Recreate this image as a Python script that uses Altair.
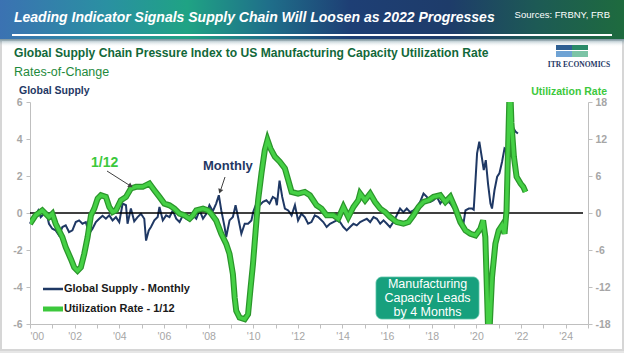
import altair as alt
import pandas as pd

# ---------------- data ----------------
blue_year = [2000.00, 2000.10, 2000.25, 2000.37, 2000.48, 2000.63, 2000.78, 2000.85,
             2001.00, 2001.15, 2001.30, 2001.45, 2001.60, 2001.75, 2001.90,
             2002.05, 2002.20, 2002.35, 2002.50, 2002.65, 2002.80, 2002.95,
             2003.10, 2003.25, 2003.40, 2003.55, 2003.70, 2003.85,
             2004.00, 2004.15, 2004.30, 2004.37, 2004.52, 2004.67, 2004.82, 2004.97,
             2005.12, 2005.20, 2005.32, 2005.42, 2005.57, 2005.72, 2005.80, 2005.95,
             2006.10, 2006.25, 2006.40, 2006.55, 2006.70, 2006.85,
             2007.00, 2007.15, 2007.30, 2007.45, 2007.60, 2007.75, 2007.90,
             2008.04, 2008.19, 2008.34, 2008.46, 2008.57, 2008.72, 2008.79, 2008.94,
             2009.09, 2009.21, 2009.32, 2009.47, 2009.62, 2009.77, 2009.92,
             2010.00, 2010.14, 2010.29, 2010.44, 2010.59, 2010.73, 2010.88,
             2011.00, 2011.06, 2011.18, 2011.30, 2011.42, 2011.57, 2011.72, 2011.87,
             2012.01, 2012.16, 2012.31, 2012.46, 2012.61, 2012.76, 2012.91,
             2013.14, 2013.29, 2013.44, 2013.59, 2013.74, 2013.89,
             2014.04, 2014.19, 2014.34, 2014.49, 2014.64, 2014.79, 2014.94,
             2015.09, 2015.24, 2015.39, 2015.54, 2015.69, 2015.84, 2015.99,
             2016.13, 2016.28, 2016.43, 2016.58, 2016.73, 2016.88,
             2017.03, 2017.18, 2017.33, 2017.48, 2017.63, 2017.78, 2017.93,
             2018.08, 2018.23, 2018.38, 2018.53, 2018.68, 2018.83, 2018.98,
             2019.13, 2019.28, 2019.43, 2019.51, 2019.66, 2019.81, 2019.88, 2019.96,
             2020.03, 2020.13, 2020.25, 2020.33, 2020.42, 2020.52, 2020.63, 2020.70, 2020.81, 2020.93,
             2021.03, 2021.15, 2021.26, 2021.35, 2021.45, 2021.55, 2021.62, 2021.75, 2021.86]
blue_value = [-0.58, -0.31, -0.13, 0.14, -0.22, -0.04, -0.22, -0.58,
              -0.85, -0.94, -1.21, -0.76, -0.67, -1.03, -0.94,
              -0.49, -0.40, -0.58, -0.49, -1.12, -0.85, -0.49,
              -0.31, -0.15, -0.31, -0.13, -0.40, -0.22,
              -0.49, 0.51, 0.42, -0.58, 0.24, -0.45, -0.22, -0.04,
              -0.31, -1.49, -0.94, -0.76, -0.40, -0.22, 0.33, -0.40,
              -0.13, -0.22, 0.14, -0.31, -0.49, -0.13,
              -0.31, -0.40, -0.13, -0.31, 0.14, -0.31, -0.04,
              0.42, 0.10, 0.51, 0.96, 0.14, -0.76, -1.30, -0.40,
              -0.22, 0.42, -0.22, -1.12, -0.58, -0.58, -0.40,
              0.05, 0.51, 0.42, 0.60, 0.69, 0.51, 0.87,
              0.78, 0.42, 1.75, 0.87, 0.24, 0.14, -0.13, 0.42,
              -0.40, -0.04, -0.22, -0.58, -0.49, -0.13, -0.22,
              -0.49, -0.76, -0.58, -0.49, -0.40, -0.49,
              -0.76, -0.94, -0.76, -0.58, -0.67, -0.49, -0.40,
              -0.31, -0.49, -0.22, -0.31, -0.58, -0.40, -0.58,
              -0.76, -0.49, -0.13, 0.24, 0.05, 0.24,
              0.05, 0.14, 0.33, 0.60, 1.05, 0.87, 0.60,
              0.69, 0.87, 0.51, 0.78, 0.69, 0.51, 0.24,
              -0.04, -0.31, -0.49, 0.14, 0.24, 0.24, 0.18, 1.78,
              3.22, 3.86, 2.95, 2.32, 2.86, 1.59, 0.51, 0.24, 1.23, 1.96,
              2.14, 2.77, 3.50, 3.41, 3.70, 4.40, 4.67, 4.40, 4.30]

green_year = [2000.00, 2000.25, 2000.55, 2000.85,
              2001.00, 2001.15, 2001.45, 2001.60, 2001.83, 2001.98,
              2002.13, 2002.28, 2002.43, 2002.58, 2002.73, 2002.88,
              2003.03, 2003.18, 2003.40, 2003.55, 2003.70, 2003.85,
              2004.07, 2004.30, 2004.52, 2004.75,
              2005.05, 2005.35, 2005.57, 2005.80,
              2006.02, 2006.25, 2006.47, 2006.70, 2006.92,
              2007.15, 2007.30, 2007.45, 2007.75, 2007.97,
              2008.12, 2008.34, 2008.57, 2008.79, 2008.94,
              2009.09, 2009.17, 2009.24, 2009.39, 2009.62, 2009.77, 2009.87, 2009.99,
              2010.11, 2010.22, 2010.37, 2010.52, 2010.64, 2010.77, 2010.97,
              2011.19, 2011.42, 2011.57, 2011.72,
              2012.01, 2012.31, 2012.54, 2012.69, 2012.84,
              2013.06, 2013.29, 2013.59, 2013.81,
              2014.04, 2014.26, 2014.49, 2014.71, 2014.79,
              2015.01, 2015.24, 2015.46, 2015.69, 2015.91,
              2016.13, 2016.43, 2016.73, 2016.96,
              2017.18, 2017.41, 2017.63, 2017.86,
              2018.08, 2018.38, 2018.61, 2018.83,
              2019.06, 2019.28, 2019.51, 2019.73, 2019.96,
              2020.18, 2020.30, 2020.40, 2020.55, 2020.70, 2020.85,
              2021.00, 2021.15, 2021.26, 2021.35, 2021.50, 2021.57, 2021.68, 2021.80, 2021.98,
              2022.10, 2022.20]
green_value = [-1.74, -0.38, 0.43, -0.65,
               -0.11, -1.74, -3.91, -5.54, -7.45, -8.80,
               -9.35, -8.80, -6.63, -3.91, -0.38, 0.71,
               2.34, 2.88, 2.61, 0.98, 0.16, 0.43,
               2.07, 2.61, 3.97, 4.24,
               4.24, 4.78, 3.70, 2.61,
               1.52, 1.25, 0.71, -0.11, -0.38,
               -0.92, -0.38, 0.43, 0.71, 0.43,
               -0.11, -1.20, -3.37, -5.00, -6.63,
               -9.89, -13.70, -15.87, -16.96, -17.23, -16.41, -12.61, -8.26,
               -2.83, 2.07, 6.41, 10.22, 11.85, 10.49, 9.13,
               8.32, 7.23, 5.33, 3.42,
               3.15, 3.42, 2.88, 2.07, 1.25,
               0.71, -0.38, -0.38, -0.92,
               0.98, -0.65, 0.98, 2.07, 3.15,
               2.07, 3.15, 1.79, 0.71, 0.16,
               -0.65, -1.47, -1.74, -1.47,
               -0.38, 0.98, 1.79, 2.07,
               2.61, 2.88, 1.79, 2.61,
               0.71, -1.47, -2.83, -3.37, -3.64,
               -2.55, -1.20, -3.91, -22.0, -10.43, -5.00,
               -2.83, -2.01, -3.37, 0.43, 22.0, 14.6, 9.13, 5.87, 4.78,
               4.24, 3.42]

year_ticks = list(range(2000, 2026))
left_ticks = [-6, -4, -2, 0, 2, 4, 6]
right_ticks = [-18, -12, -6, 0, 6, 12, 18]
box_lines = ["Manufacturing", "Capacity Leads", "by 4 Months"]

assert len(blue_year) == len(blue_value)
assert len(green_year) == len(green_value)

blue_df = pd.DataFrame({"year": blue_year, "gscpi": blue_value})
green_df = pd.DataFrame({"year": green_year, "util": green_value})
one = pd.DataFrame({"d": [0]})

# ---------------- layout ----------------
L, T = 30, 102
W, H = 558, 222
FONT = "Liberation Sans, Arial, sans-serif"
NAVY = "#1f3864"
GREEN = "#3cc83c"
AXGRAY = "#a6a6a6"


def px(x):
    return x - L


def py(y):
    return y - T


def text(s, x, y, size, color, weight="normal", style="normal", align="left", font=FONT):
    return alt.Chart(one).mark_text(
        text=s, align=align, baseline="middle", fontSize=size, color=color,
        fontWeight=weight, fontStyle=style, font=font
    ).encode(x=alt.value(px(x)), y=alt.value(py(y)))


def rect(x1, y1, x2, y2, **kw):
    return alt.Chart(one).mark_rect(**kw).encode(
        x=alt.value(px(x1)), x2=alt.value(px(x2)), y=alt.value(py(y1)), y2=alt.value(py(y2)))


def rule(x1, y1, x2, y2, **kw):
    return alt.Chart(one).mark_rule(**kw).encode(
        x=alt.value(px(x1)), x2=alt.value(px(x2)), y=alt.value(py(y1)), y2=alt.value(py(y2)))


def arrowhead(x, y, angle):
    return alt.Chart(one).mark_point(shape="triangle", angle=angle, filled=True, size=28,
                                     color="#404040", opacity=1).encode(
        x=alt.value(px(x)), y=alt.value(py(y)))


banner_grad = alt.Gradient(
    gradient="linear", x1=0, x2=1, y1=0, y2=0,
    stops=[alt.GradientStop(offset=0.0, color="#3b72b2"),
           alt.GradientStop(offset=0.17, color="#2a90a2"),
           alt.GradientStop(offset=0.30, color="#1fa384"),
           alt.GradientStop(offset=0.43, color="#1f6f8a"),
           alt.GradientStop(offset=0.56, color="#1e3f75"),
           alt.GradientStop(offset=0.72, color="#1e3c6a"),
           alt.GradientStop(offset=0.86, color="#1d5a55"),
           alt.GradientStop(offset=1.0, color="#1e6b3e")])
fade_grad = alt.Gradient(
    gradient="linear", x1=0, x2=0, y1=0, y2=1,
    stops=[alt.GradientStop(offset=0.0, color="rgba(40,90,110,0.55)"),
           alt.GradientStop(offset=1.0, color="rgba(255,255,255,0)")])

decor = [
    rect(0, 349, 624, 353, fill="#e6e6e6"),
    rect(1, 40, 623, 350, fill="white", stroke="#d6d6d6", strokeWidth=2, fillOpacity=0),
    rect(0, 0, 624, 39, fill=banner_grad),
    rect(0, 39, 624, 47, fill=fade_grad),
    rule(12, 35, 612, 35, color="white", strokeWidth=2),
    text("Leading Indicator Signals Supply Chain Will Loosen as 2022 Progresses",
         14, 18, 14, "white", weight="bold", style="italic"),
    text("Sources: FRBNY, FRB", 610, 15, 9.5, "white", align="right"),
    text("Global Supply Chain Pressure Index to US Manufacturing Capacity Utilization Rate",
         14, 53, 12.1, "#12683a", weight="bold"),
    text("Rates-of-Change", 14, 72, 12.5, "#1e8a3c"),
    rect(556, 45, 572, 50, fill="#2e5f92"),
    rect(556, 51, 572, 57, fill="#6fa3d4"),
    rect(572, 45, 588, 50, fill="#2a8a68"),
    rect(572, 51, 588, 57, fill="#7cc4a6"),
    text("ITR ECONOMICS", 579, 65, 7.5, NAVY, weight="bold", align="center",
         font="Liberation Serif, DejaVu Serif, serif"),
    text("Global Supply", 19, 91, 10.5, NAVY, weight="bold"),
    text("Utilization Rate", 607, 92, 10.5, GREEN, weight="bold", align="right"),
]

# ---------------- data layers ----------------
x_enc = alt.X("year:Q", scale=alt.Scale(domain=[2000, 2025], nice=False, zero=False),
              axis=alt.Axis(values=year_ticks, title=None, grid=False,
                            labelExpr="datum.value % 2 == 0 && datum.value <= 2024 ? \"'\" + substring(toString(datum.value), 2, 4) : ''",
                            labelOverlap=False, labelColor=AXGRAY, labelFont=FONT,
                            labelFontSize=10.5, labelPadding=3, tickSize=4,
                            tickColor="#bfbfbf", domainColor="#bfbfbf"))

left_axis = alt.Axis(orient="left", values=left_ticks, title=None, grid=False,
                     labelExpr="toString(datum.value)", labelColor=AXGRAY,
                     labelOverlap=False, labelBound=False,
                     labelFont=FONT, labelFontSize=10.5, labelFontWeight="bold",
                     labelPadding=4, tickSize=4, tickColor="#bfbfbf",
                     domainColor="#bfbfbf")

blue = alt.Chart(blue_df).mark_line(color=NAVY, strokeWidth=2).encode(
    x=x_enc,
    y=alt.Y("gscpi:Q", scale=alt.Scale(domain=[-6, 6], nice=False), axis=left_axis))

zero_rule = alt.Chart(one).mark_rule(color="black", strokeWidth=1.6).encode(
    x=alt.value(0), x2=alt.value(W - 5),
    y=alt.YDatum(0, scale=alt.Scale(domain=[-6, 6], nice=False), axis=left_axis))

green_y = alt.Y("util:Q", scale=alt.Scale(domain=[-18, 18], nice=False),
                axis=alt.Axis(orient="right", values=right_ticks, title=None, grid=False,
                              labelExpr="toString(datum.value)", labelColor=AXGRAY,
                              labelOverlap=False, labelBound=False,
                              labelFont=FONT, labelFontSize=10.5, labelFontWeight="bold",
                              labelPadding=3, tickSize=4, tickColor="#bfbfbf",
                              domainColor="#bfbfbf"))
green_under = alt.Chart(green_df).mark_line(color="#2b962b", strokeWidth=6, clip=True).encode(
    x=x_enc, y=green_y)
green_top = alt.Chart(green_df).mark_line(color="#45d045", strokeWidth=3.5, clip=True).encode(
    x=x_enc, y=green_y)

left_group = alt.layer(blue, zero_rule)
green_group = alt.layer(green_under, green_top)

# ---------------- annotations ----------------
annot = [
    rule(43, 289, 63, 289, color=NAVY, strokeWidth=2.5),
    text("Global Supply - Monthly", 64, 289, 11, "#1a1a1a", weight="bold"),
    rule(43, 309, 63, 309, color=GREEN, strokeWidth=5),
    text("Utilization Rate - 1/12", 64, 309, 11, "#1a1a1a", weight="bold"),
    text("1/12", 91, 163, 14, GREEN, weight="bold"),
    rule(107, 171, 129, 185, color="#404040", strokeWidth=1),
    arrowhead(130, 185.5, 123),
    text("Monthly", 203, 166, 13, NAVY, weight="bold"),
    rule(225, 177, 221, 189, color="#404040", strokeWidth=1),
    arrowhead(220.3, 190.5, 199),
    rect(376, 277, 479, 319, fill="#17a07d", cornerRadius=6, stroke="#5cc4a6", strokeWidth=0.8),
]
for i, s in enumerate(box_lines):
    annot.append(text(s, 427.5, 284 + 14 * i, 12.5, "white", align="center"))

chart = alt.layer(*decor, left_group, green_group, *annot).resolve_scale(
    y="independent"
).properties(
    width=W, height=H, autosize=alt.AutoSizeParams(type="none"),
    padding={"left": L, "top": T, "right": 624 - L - W, "bottom": 353 - T - H},
    background="white"
).configure_view(stroke=None)

chart.save("out.html", embed_options={"renderer": "svg", "actions": False})
